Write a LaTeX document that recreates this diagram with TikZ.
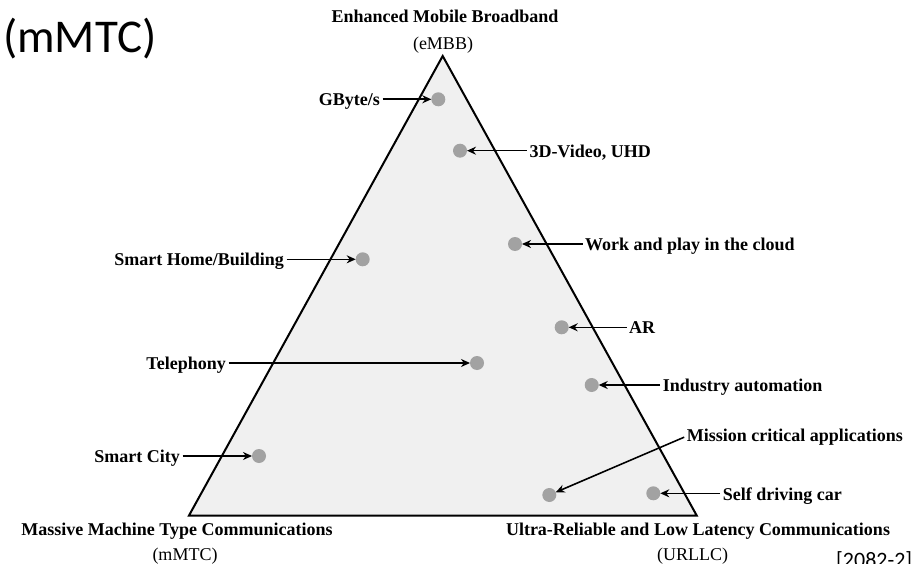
\documentclass[tikz,border=0pt]{standalone}
\usepackage{fontspec}
\setmainfont{Liberation Serif}
\newfontfamily\carlitofont{Carlito}
\usetikzlibrary{arrows.meta}
\definecolor{trifill}{HTML}{F0F0F0}
\definecolor{dotgray}{HTML}{A2A2A2}
\tikzset{
  tri/.style={draw=black, line width=2pt, fill=trifill, line join=miter},
  dot/.style={circle, fill=dotgray, minimum size=14pt, inner sep=0pt, outer sep=0pt},
  lbl/.style={font=\fontsize{18}{20}\selectfont\bfseries, inner sep=2.5pt, text=black},
  ttl/.style={font=\fontsize{18}{20}\selectfont\bfseries, inner sep=0pt},
  sub/.style={font=\fontsize{18}{20}\selectfont, inner sep=0pt},
  arr/.style={draw=black, line width=1.6pt, -{Stealth[length=9pt,width=8pt]}}
}
\begin{document}
\begin{tikzpicture}[x=1pt,y=-1pt]
\useasboundingbox (0,0) rectangle (918,564);
\clip (0,0) rectangle (918,564);
\fill[white] (0,0) rectangle (918,564);

% triangle
\coordinate (apex) at (442.7,56);
\coordinate (bl) at (189,515.5);
\coordinate (br) at (696.7,515.5);
\draw[tri] (apex) -- (br) -- (bl) -- cycle;

% titles
\node[ttl, anchor=base] (tE) at (445,22.7) {Enhanced Mobile Broadband};
\node[sub, anchor=base] (sE) at (443,50) {(eMBB)};
\node[ttl, anchor=base] (tM) at (177,535) {Massive Machine Type Communications};
\node[sub, anchor=base] (sM) at (185,560) {(mMTC)};
\node[ttl, anchor=base] (tU) at (698,535) {Ultra-Reliable and Low Latency Communications};
\node[sub, anchor=base] (sU) at (692.5,560) {(URLLC)};

% extra texts
\node[font=\carlitofont\fontsize{47}{50}\selectfont, anchor=base west, inner sep=0pt] (big) at (3,53) {(mMTC)};
\node[font=\carlitofont\fontsize{22}{24}\selectfont, anchor=base west, inner sep=0pt] (ref) at (836,567) {[2082-2]};

% dots
\node[dot] (dGB) at (438.3,99.3) {};
\node[dot] (d3D) at (460,150.7) {};
\node[dot] (dWP) at (515,244) {};
\node[dot] (dSH) at (362.7,259.3) {};
\node[dot] (dAR) at (561.7,327.3) {};
\node[dot] (dTe) at (477,363) {};
\node[dot] (dIA) at (591.7,385) {};
\node[dot] (dSC) at (259,456) {};
\node[dot] (dMC) at (549.3,495) {};
\node[dot] (dSD) at (653.3,493.3) {};

% left labels
\node[lbl, anchor=base east] (lGB) at (382.5,105.8) {GByte/s};
\node[lbl, anchor=base east] (lSH) at (286.5,265.8) {Smart Home/Building};
\node[lbl, anchor=base east] (lTe) at (228.5,369.5) {Telephony};
\node[lbl, anchor=base east] (lSC) at (182.5,462.5) {Smart City};

% right labels
\node[lbl, anchor=base west] (l3D) at (526.8,157.2) {3D-Video, UHD};
\node[lbl, anchor=base west] (lWP) at (582.5,250.5) {Work and play in the cloud};
\node[lbl, anchor=base west] (lAR) at (626.5,333.8) {AR};
\node[lbl, anchor=base west] (lIA) at (660.2,391.5) {Industry automation};
\node[lbl, anchor=base west] (lMC) at (684.2,441.5) {Mission critical applications};
\node[lbl, anchor=base west] (lSD) at (720.2,500.5) {Self driving car};

% arrows
\draw[arr] (lGB.east |- dGB) -- (dGB);
\draw[arr] (lSH.east |- dSH) -- (dSH);
\draw[arr] (lTe.east |- dTe) -- (dTe);
\draw[arr] (lSC.east |- dSC) -- (dSC);
\draw[arr] (l3D.west |- d3D) -- (d3D);
\draw[arr] (lWP.west |- dWP) -- (dWP);
\draw[arr] (lAR.west |- dAR) -- (dAR);
\draw[arr] (lIA.west |- dIA) -- (dIA);
\draw[arr] (lMC.west) -- (dMC);
\draw[arr] (lSD.west |- dSD) -- (dSD);
\end{tikzpicture}
\end{document}
